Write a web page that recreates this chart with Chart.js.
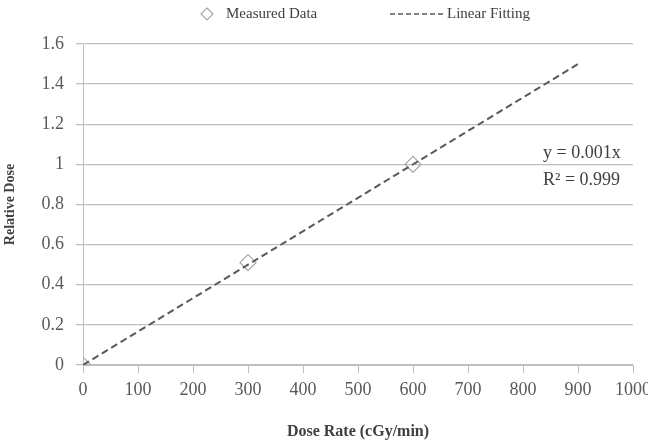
<!DOCTYPE html>
<html>
<head>
<meta charset="utf-8">
<script src="https://cdn.jsdelivr.net/npm/chart.js@4"></script>
<style>
  html, body { margin: 0; padding: 0; background: #fff; overflow: hidden; }
  #wrap { width: 657px; height: 445px; }
</style>
</head>
<body>
<div id="wrap"><canvas id="dose"></canvas></div>
<script>
// measured points
const doseRate = [0, 300, 600];
const relDose = [0, 0.51, 1.0];
// fitted line end points
const fitX = [0, 900];
const fitY = [0, 1.5];
const seriesNames = ['Measured Data', 'Linear Fitting'];
const fitText = ['y = 0.001x', 'R\u00B2 = 0.999'];

const serif = "'Liberation Serif', 'Times New Roman', serif";
const gridCol = '#bfbfbf';
const textCol = '#595959';

// legend + equation text
const extras = {
  id: 'extras',
  afterDraw(chart) {
    const c = chart.ctx;
    const area = chart.chartArea;
    c.save();
    c.font = '15px ' + serif;
    c.fillStyle = '#404040';
    c.textBaseline = 'middle';
    // diamond
    c.strokeStyle = '#a6a6a6';
    c.lineWidth = 1.2;
    c.beginPath();
    c.moveTo(207, 8); c.lineTo(213, 14); c.lineTo(207, 20); c.lineTo(201, 14); c.closePath();
    c.stroke();
    c.fillText(seriesNames[0], 226, 14);
    // dashed line
    c.strokeStyle = '#595959';
    c.lineWidth = 1.5;
    c.setLineDash([5, 3]);
    c.beginPath();
    c.moveTo(390, 14); c.lineTo(445, 14);
    c.stroke();
    c.setLineDash([]);
    c.fillText(seriesNames[1], 447, 14);
    // equation
    c.font = '18px ' + serif;
    c.fillStyle = '#404040';
    c.fillText(fitText[0], area.right - 90, 153);
    c.fillText(fitText[1], area.right - 90, 180);
    c.restore();
  }
};

new Chart(document.getElementById('dose'), {
  type: 'scatter',
  data: {
    datasets: [{
      label: seriesNames[0],
      data: doseRate.map((x, i) => ({ x: x, y: relDose[i] })),
      pointStyle: 'rectRot',
      pointRadius: 8,
      pointBorderWidth: 1.2,
      borderColor: '#a6a6a6',
      backgroundColor: 'rgba(255,255,255,0)',
      showLine: false,
      order: 2
    }, {
      label: seriesNames[1],
      data: fitX.map((x, i) => ({ x: x, y: fitY[i] })),
      showLine: true,
      borderColor: '#595959',
      borderWidth: 2,
      borderDash: [7, 4],
      pointRadius: 0,
      order: 1
    }]
  },
  options: {
    responsive: true,
    maintainAspectRatio: false,
    animation: false,
    layout: { padding: { top: 44, left: 0, right: 0, bottom: 0 } },
    plugins: {
      legend: { display: false },
      tooltip: { enabled: false }
    },
    scales: {
      x: {
        type: 'linear',
        min: 0,
        max: 1000,
        ticks: {
          stepSize: 100, color: textCol, font: { family: serif, size: 18 }, padding: 6,
          callback: v => String(v)
        },
        grid: { drawOnChartArea: false, color: gridCol, tickLength: 8 },
        border: { color: gridCol },
        title: { display: true, text: 'Dose Rate (cGy/min)', color: '#404040', font: { family: serif, size: 16, weight: 'bold' } },
        afterFit(s) { s.height = 80; }
      },
      y: {
        min: 0,
        max: 1.6,
        ticks: {
          stepSize: 0.2, color: textCol, font: { family: serif, size: 18 }, padding: 12,
          callback: v => String(+v.toFixed(1))
        },
        grid: { color: gridCol, tickLength: 7, lineWidth: 1.3 },
        border: { color: gridCol },
        title: { display: true, text: 'Relative Dose', color: '#404040', font: { family: serif, size: 14, weight: 'bold' }, padding: { top: 2, bottom: 4 } },
        afterFit(s) { s.width = 83; }
      }
    }
  },
  plugins: [extras]
});
</script>
</body>
</html>
